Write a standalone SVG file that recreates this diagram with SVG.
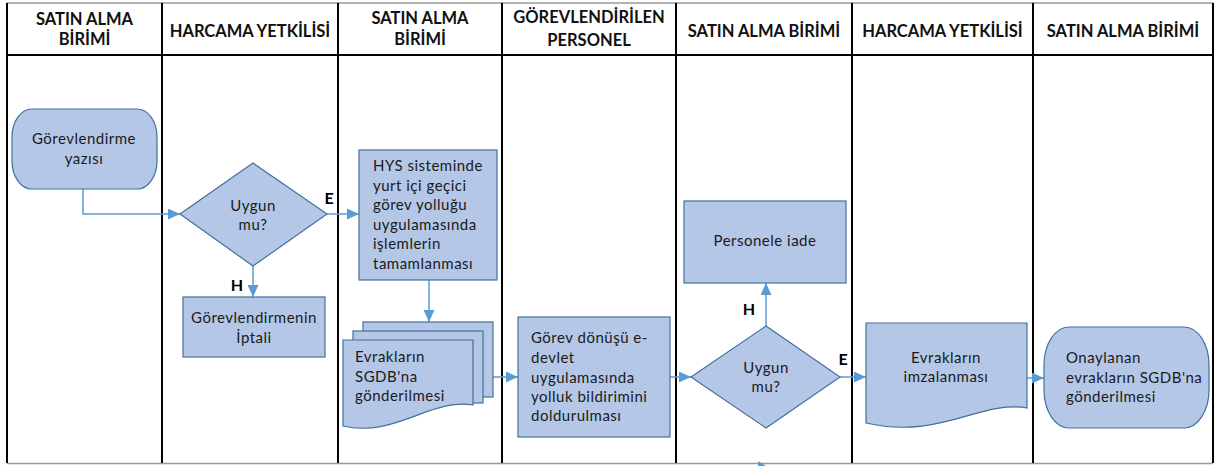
<svg xmlns="http://www.w3.org/2000/svg" width="1217" height="466" viewBox="0 0 1217 466">
<defs>
<style>
.hdr{font-family:Lato,"Liberation Sans",sans-serif;font-weight:bold;font-size:16.5px;fill:#111;text-anchor:middle}
.t{font-family:Lato,"Liberation Sans",sans-serif;font-size:15px;fill:#1a1a1a;letter-spacing:0.5px}
.c{text-anchor:middle}
.lbl{font-family:Lato,"Liberation Sans",sans-serif;font-weight:bold;font-size:16px;fill:#000;text-anchor:middle}
.shape{fill:#b4c7e7;stroke:#41719c;stroke-width:1.2}
.lane{stroke:#000;stroke-width:2;fill:none}
.conn{stroke:#5b9bd5;stroke-width:1.5;fill:none}
</style>
<marker id="ah" markerUnits="userSpaceOnUse" markerWidth="12" markerHeight="11" viewBox="0 0 12 11" refX="12" refY="5.5" orient="auto">
<path d="M0,0 L12,5.5 L0,11 Z" fill="#5b9bd5"/>
</marker>
</defs>
<rect width="1217" height="466" fill="#fff"/>
<g id="lanes">
<line x1="7" y1="3" x2="1213" y2="3" stroke="#999" stroke-width="1.5"/>
<line x1="7" y1="463.5" x2="1213" y2="463.5" stroke="#999" stroke-width="1.5"/>
<line class="lane" x1="7" y1="55" x2="1213" y2="55"/>
<line class="lane" x1="7" y1="3" x2="7" y2="463"/>
<line class="lane" x1="162" y1="3" x2="162" y2="463"/>
<line class="lane" x1="338" y1="3" x2="338" y2="463"/>
<line class="lane" x1="502" y1="3" x2="502" y2="463"/>
<line class="lane" x1="676" y1="3" x2="676" y2="463"/>
<line class="lane" x1="852" y1="3" x2="852" y2="463"/>
<line class="lane" x1="1033" y1="3" x2="1033" y2="463"/>
<line class="lane" x1="1213" y1="3" x2="1213" y2="463"/>
</g>
<g id="headers">
<text class="hdr" x="84.5" y="25">SATIN ALMA</text>
<text class="hdr" x="84.5" y="45">BİRİMİ</text>
<text class="hdr" x="250" y="37">HARCAMA YETKİLİSİ</text>
<text class="hdr" x="420" y="24">SATIN ALMA</text>
<text class="hdr" x="420" y="45">BİRİMİ</text>
<text class="hdr" x="589" y="23">GÖREVLENDİRİLEN</text>
<text class="hdr" x="589" y="46">PERSONEL</text>
<text class="hdr" x="764" y="37">SATIN ALMA BİRİMİ</text>
<text class="hdr" x="942.5" y="37">HARCAMA YETKİLİSİ</text>
<text class="hdr" x="1123" y="37">SATIN ALMA BİRİMİ</text>
</g>
<g id="connectors">
<polyline class="conn" points="83,189 83,214 180,214" marker-end="url(#ah)"/>
<line class="conn" x1="327" y1="214" x2="359" y2="214" marker-end="url(#ah)"/>
<line class="conn" x1="253" y1="266" x2="253" y2="297" marker-end="url(#ah)"/>
<line class="conn" x1="429" y1="280" x2="429" y2="322" marker-end="url(#ah)"/>
<line class="conn" x1="493" y1="377" x2="518" y2="377" marker-end="url(#ah)"/>
<line class="conn" x1="670" y1="377" x2="691" y2="377" marker-end="url(#ah)"/>
<line class="conn" x1="766" y1="326" x2="766" y2="283" marker-end="url(#ah)"/>
<line class="conn" x1="840" y1="377" x2="866" y2="377" marker-end="url(#ah)"/>
<line class="conn" x1="1027" y1="378" x2="1044" y2="378" marker-end="url(#ah)"/>
<path d="M758,461 L766,466 L758,466 Z" fill="#5b9bd5"/>
<text class="lbl" x="329" y="204">E</text>
<text class="lbl" x="237" y="291">H</text>
<text class="lbl" x="749" y="315">H</text>
<text class="lbl" x="843" y="365">E</text>
</g>
<g id="n1">
<rect class="shape" x="12" y="109" width="145" height="80" rx="20" ry="28"/>
<text class="t c" x="84" y="144">Görevlendirme</text>
<text class="t c" x="84" y="164">yazısı</text>
</g>
<g id="n2">
<polygon class="shape" points="180,214 253,163 327,214 253,266"/>
<text class="t c" x="253" y="211">Uygun</text>
<text class="t c" x="253" y="230">mu?</text>
</g>
<g id="n3">
<rect class="shape" x="183" y="297" width="142" height="60"/>
<text class="t c" x="254" y="323">Görevlendirmenin</text>
<text class="t c" x="254" y="343">İptali</text>
</g>
<g id="n4">
<rect class="shape" x="359" y="150" width="138" height="130"/>
<text class="t" x="373" y="171">HYS sisteminde</text>
<text class="t" x="373" y="190.5">yurt içi geçici</text>
<text class="t" x="373" y="210">görev yolluğu</text>
<text class="t" x="373" y="229.5">uygulamasında</text>
<text class="t" x="373" y="249">işlemlerin</text>
<text class="t" x="373" y="268.5">tamamlanması</text>
</g>
<g id="n5">
<rect class="shape" x="363" y="322" width="130" height="75"/>
<rect class="shape" x="353" y="331" width="130" height="72"/>
<path class="shape" d="M343,340 H473 V405 C430,398 395,438 343,426 Z"/>
<text class="t" x="355" y="362">Evrakların</text>
<text class="t" x="355" y="382">SGDB'na</text>
<text class="t" x="355" y="401">gönderilmesi</text>
</g>
<g id="n6">
<rect class="shape" x="518" y="317" width="152" height="120"/>
<text class="t" x="531" y="343">Görev dönüşü e-</text>
<text class="t" x="531" y="363">devlet</text>
<text class="t" x="531" y="383">uygulamasında</text>
<text class="t" x="531" y="402">yolluk bildirimini</text>
<text class="t" x="531" y="421">doldurulması</text>
</g>
<g id="n7">
<polygon class="shape" points="691,377 766,326 840,377 766,428"/>
<text class="t c" x="766" y="373">Uygun</text>
<text class="t c" x="766" y="392">mu?</text>
</g>
<g id="n8">
<rect class="shape" x="684" y="201" width="162" height="82"/>
<text class="t c" x="765" y="246">Personele iade</text>
</g>
<g id="n9">
<path class="shape" d="M866,323 H1027 V408 C980,400 940,440 866,423 Z"/>
<text class="t c" x="946" y="363">Evrakların</text>
<text class="t c" x="946" y="382">imzalanması</text>
</g>
<g id="n10">
<rect class="shape" x="1044" y="327" width="165" height="101" rx="25" ry="38"/>
<text class="t" x="1066" y="363">Onaylanan</text>
<text class="t" x="1066" y="383">evrakların SGDB'na</text>
<text class="t" x="1066" y="402">gönderilmesi</text>
</g>
</svg>
